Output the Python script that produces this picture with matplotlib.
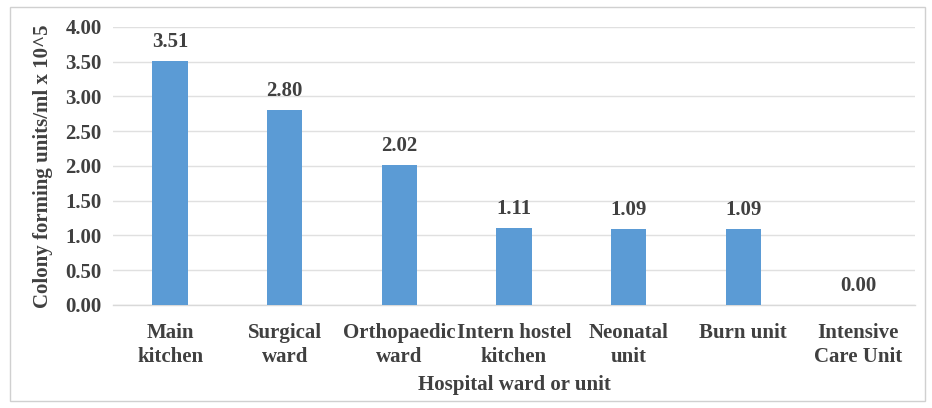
import matplotlib.pyplot as plt
from matplotlib.patches import Rectangle

wards = ["Main\nkitchen", "Surgical\nward", "Orthopaedic\nward", "Intern hostel\nkitchen",
         "Neonatal\nunit", "Burn unit", "Intensive\nCare Unit"]
cfu = [3.51, 2.80, 2.02, 1.11, 1.09, 1.09, 0.00]
yticks = [0.0, 0.5, 1.0, 1.5, 2.0, 2.5, 3.0, 3.5, 4.0]

plt.rcParams['font.family'] = ['Liberation Serif', 'DejaVu Serif']
plt.rcParams['font.weight'] = 'bold'
txt = '#404040'
grid = '#e0e0e0'
fs = 15

fig = plt.figure(figsize=(9.32, 4.08), dpi=100)
ax = fig.add_axes([0.121, 0.2525, 0.861, 0.6815])

x = range(len(wards))
bars = ax.bar(x, cfu, width=0.31, color='#5b9bd5', zorder=3)
for xi, v in zip(x, cfu):
    ax.text(xi, v + 0.13, f"{v:.2f}", ha='center', va='bottom',
            fontsize=fs, fontweight='bold', color=txt)

ax.set_ylim(0, 4)
ax.set_xlim(-0.5, len(wards) - 0.5)
ax.set_yticks(yticks)
ax.set_yticklabels([f"{t:.2f}" for t in yticks])
ax.set_xticks(list(x))
ax.set_xticklabels(wards, linespacing=1.25)
ax.tick_params(axis='both', length=0, labelsize=fs, labelcolor=txt)
ax.tick_params(axis='x', pad=13)
ax.tick_params(axis='y', pad=8)
for lbl in ax.get_xticklabels() + ax.get_yticklabels():
    lbl.set_fontweight('bold')

ax.grid(axis='y', color=grid, linewidth=1, zorder=0)
for s in ['top', 'right', 'left']:
    ax.spines[s].set_visible(False)
ax.spines['bottom'].set_color('#d9d9d9')
ax.spines['bottom'].set_linewidth(1)

ax.set_xlabel("Hospital ward or unit", fontsize=fs, fontweight='bold', color=txt, labelpad=6)
ax.set_ylabel("Colony forming units/ml x 10^5", fontsize=fs, fontweight='bold', color=txt, labelpad=9)

fig.patches.append(Rectangle((0.011, 0.018), 0.982, 0.964, transform=fig.transFigure,
                             fill=False, edgecolor='#d0d0d0', linewidth=1))

fig.savefig("out.png", dpi=100)
